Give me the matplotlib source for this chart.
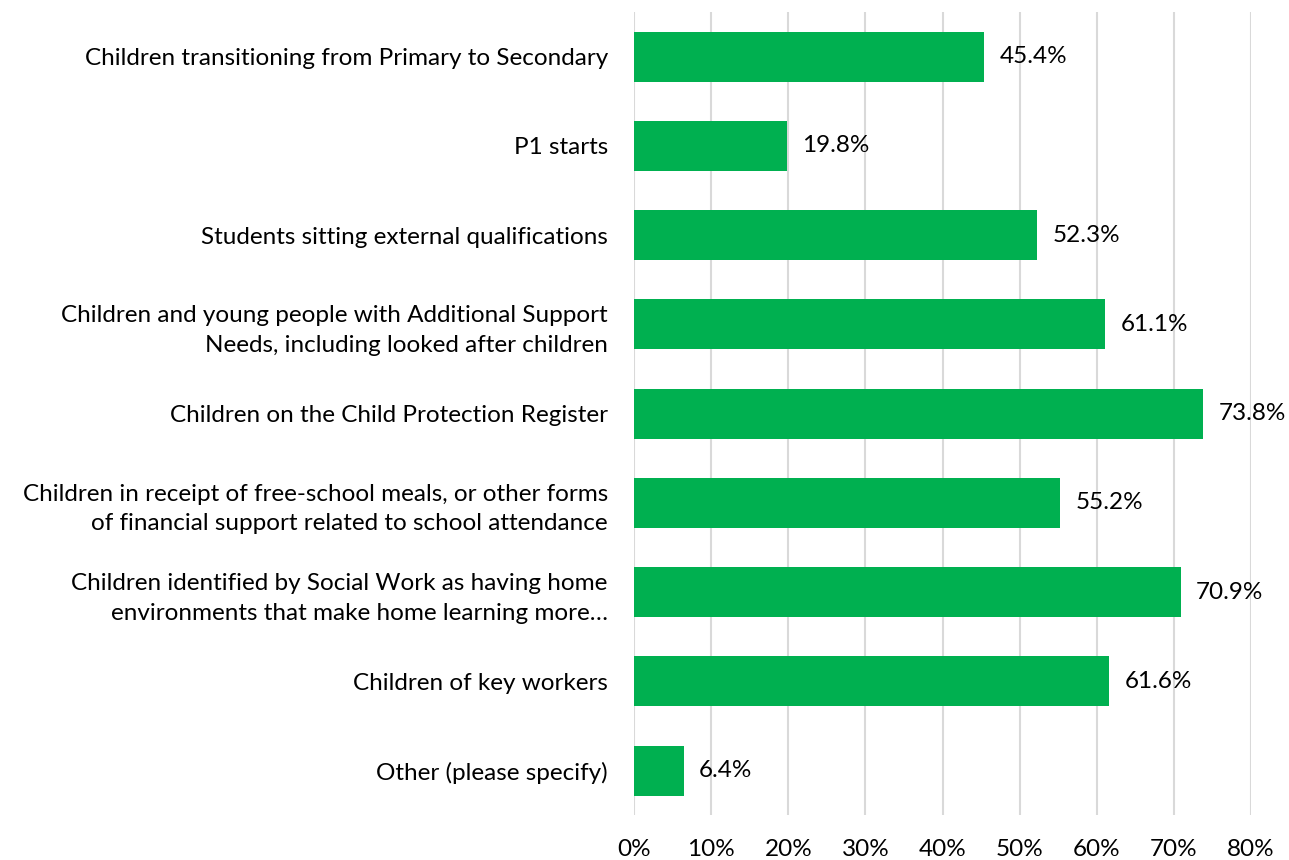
import matplotlib
matplotlib.use("Agg")
import matplotlib.pyplot as plt
from matplotlib.ticker import MultipleLocator, FuncFormatter

categories = [
    "Children transitioning from Primary to Secondary",
    "P1 starts",
    "Students sitting external qualifications",
    "Children and young people with Additional Support\nNeeds, including looked after children",
    "Children on the Child Protection Register",
    "Children in receipt of free-school meals, or other forms\nof financial support related to school attendance",
    "Children identified by Social Work as having home\nenvironments that make home learning more\u2026",
    "Children of key workers",
    "Other (please specify)",
]
values = [45.4, 19.8, 52.3, 61.1, 73.8, 55.2, 70.9, 61.6, 6.4]

plt.rcParams['font.family'] = ['Lato', 'DejaVu Sans']
fs = 17.5

fig = plt.figure(figsize=(12.89, 8.6), dpi=100)
ax = fig.add_axes([0.492, 0.052, 0.4785, 0.934])

y = list(range(len(categories)))
ax.barh(y, values, height=0.56, color='#00B050', zorder=3)
for yi, v in zip(y, values):
    ax.text(v + 2.0, yi, f"{v:.1f}%", va='center', ha='left', fontsize=fs, color='#000000')

ax.set_yticks(y)
ax.set_yticklabels(categories, fontsize=fs, linespacing=1.5)
ax.set_ylim(len(categories) - 0.5, -0.5)
ax.set_xlim(0, 80)
ax.xaxis.set_major_locator(MultipleLocator(10))
ax.xaxis.set_major_formatter(FuncFormatter(lambda x, p: f"{int(x)}%"))
ax.tick_params(axis='x', labelsize=fs, length=0, pad=17)
ax.tick_params(axis='y', length=0, pad=19)
ax.grid(axis='x', color='#D9D9D9', linewidth=1.5, zorder=0)
for s in ax.spines.values():
    s.set_visible(False)

fig.savefig("out.png", dpi=100)
